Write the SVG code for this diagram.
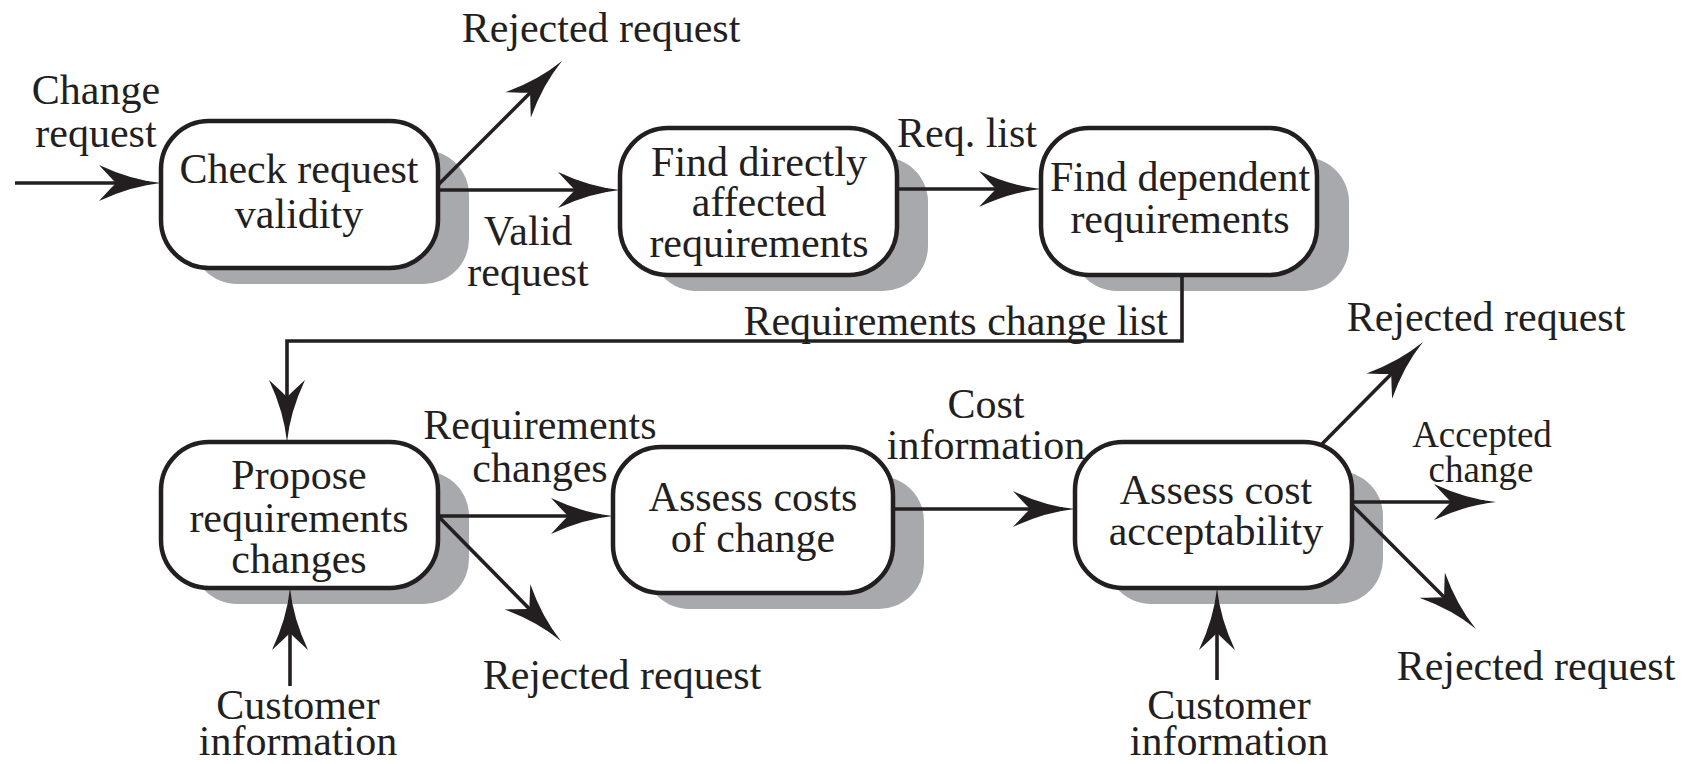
<svg xmlns="http://www.w3.org/2000/svg" width="1683" height="764" viewBox="0 0 1683 764">
<style>
text{font-family:"Liberation Serif","Times New Roman",serif;font-size:42px;fill:#231f20;text-anchor:middle}
.sm{font-size:37px}
.end{text-anchor:end}
.box{fill:#fff;stroke:#231f20;stroke-width:4.5}
.sh{fill:#a7a9ac}
.c{fill:none;stroke:#231f20;stroke-width:3.6;marker-end:url(#ah)}
</style>
<defs>
<marker id="ah" markerUnits="userSpaceOnUse" markerWidth="80" markerHeight="44" viewBox="-60 -22 80 44" refX="0" refY="0" orient="auto" overflow="visible">
<path d="M12,0 Q-18,-3 -50,-18 Q-39,-6 -33,0 Q-39,6 -50,18 Q-18,3 12,0 Z" fill="#231f20"/>
</marker>
</defs>
<rect width="1683" height="764" fill="#fff"/>
<g id="shadows">
<rect class="sh" x="192" y="150" width="277" height="134" rx="45"/>
<rect class="sh" x="651" y="157" width="277" height="134" rx="45"/>
<rect class="sh" x="1072" y="157" width="277" height="134" rx="45"/>
<rect class="sh" x="192" y="471" width="277" height="133" rx="45"/>
<rect class="sh" x="644" y="476" width="280" height="133" rx="45"/>
<rect class="sh" x="1106" y="471" width="277" height="133" rx="45"/>
</g>
<g id="connectors">
<path class="c" d="M15,183 H149"/>
<path class="c" d="M436,187 L553.5,69.5"/>
<path class="c" d="M438,190 H608"/>
<path class="c" d="M897,189 H1029"/>
<path class="c" d="M1182,276 V341 H287 V430"/>
<path class="c" d="M438,516 H601"/>
<path class="c" d="M438,516 L552.6,632.4"/>
<path class="c" d="M893,509 H1063"/>
<path class="c" d="M1322,444 L1414.5,350.5"/>
<path class="c" d="M1352,502 H1484"/>
<path class="c" d="M1352,505 L1467.5,620.5"/>
<path class="c" d="M290,686 V600"/>
<path class="c" d="M1217,680 V600"/>
</g>
<g id="n1">
<rect class="box" x="161" y="121" width="277" height="147" rx="48"/>
<text x="299" y="183">Check request</text>
<text x="299" y="228">validity</text>
</g>
<g id="n2">
<rect class="box" x="620" y="128" width="277" height="147" rx="48"/>
<text x="759" y="176">Find directly</text>
<text x="759" y="216">affected</text>
<text x="759" y="257">requirements</text>
</g>
<g id="n3">
<rect class="box" x="1041" y="128" width="276" height="147" rx="48"/>
<text x="1180" y="191">Find dependent</text>
<text x="1180" y="233">requirements</text>
</g>
<g id="n4">
<rect class="box" x="161" y="442" width="277" height="146" rx="48"/>
<text x="299" y="489">Propose</text>
<text x="299" y="532">requirements</text>
<text x="299" y="573">changes</text>
</g>
<g id="n5">
<rect class="box" x="613" y="447" width="280" height="146" rx="48"/>
<text x="753" y="511">Assess costs</text>
<text x="753" y="552">of change</text>
</g>
<g id="n6">
<rect class="box" x="1075" y="442" width="277" height="146" rx="48"/>
<text x="1216" y="504">Assess cost</text>
<text x="1216" y="545">acceptability</text>
</g>
<g id="labels">
<text x="96" y="104">Change</text>
<text x="96" y="147">request</text>
<text x="601" y="42">Rejected request</text>
<text x="528" y="245">Valid</text>
<text x="528" y="286">request</text>
<text x="967" y="147">Req. list</text>
<text class="end" x="1168" y="335">Requirements change list</text>
<text x="540" y="439">Requirements</text>
<text x="540" y="482">changes</text>
<text x="986" y="418">Cost</text>
<text x="986" y="459">information</text>
<text x="1486" y="331">Rejected request</text>
<text class="sm" x="1482" y="447">Accepted</text>
<text class="sm" x="1481" y="482">change</text>
<text x="1536" y="680">Rejected request</text>
<text x="622" y="689">Rejected request</text>
<text x="298" y="719">Customer</text>
<text x="298" y="755">information</text>
<text x="1229" y="719">Customer</text>
<text x="1229" y="755">information</text>
</g>
</svg>
